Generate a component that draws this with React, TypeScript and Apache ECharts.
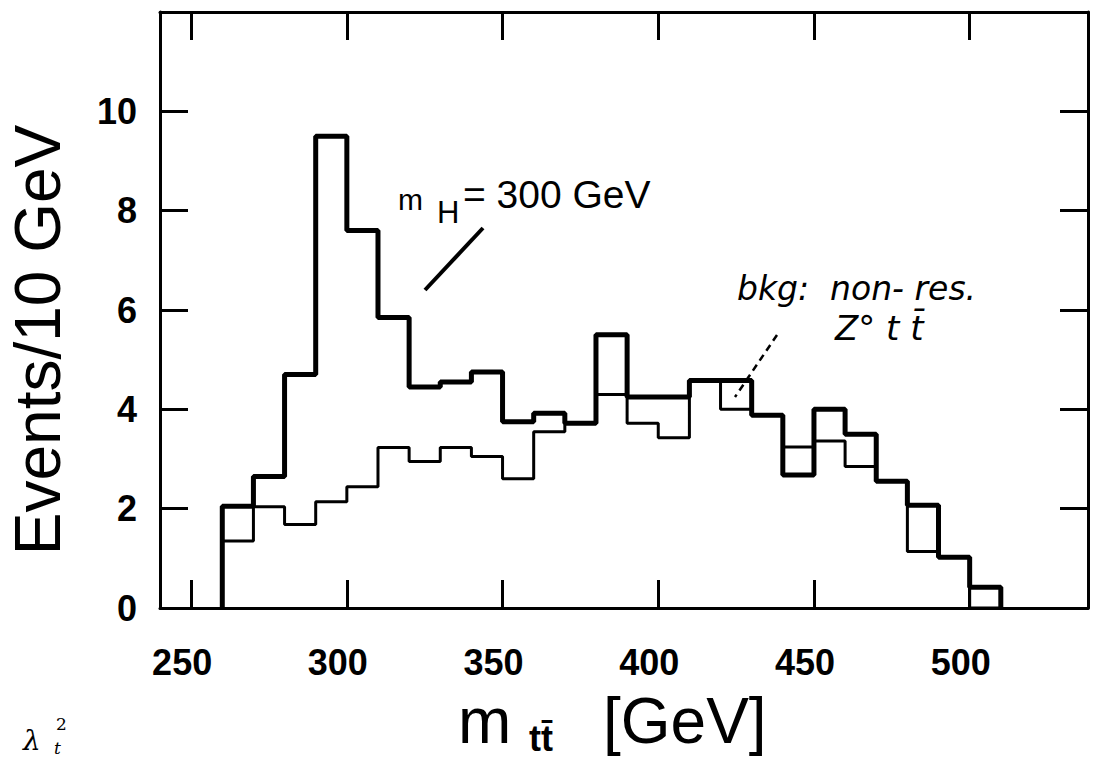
import React, { useEffect, useRef } from "react";
import * as echarts from "echarts";

// Bin edges of the m_tt distribution (GeV), 10 GeV per bin
const binEdges = [260, 270, 280, 290, 300, 310, 320, 330, 340, 350, 360, 370, 380, 390, 400, 410, 420, 430, 440, 450, 460, 470, 480, 490, 500, 510];
// Signal + background, m_H = 300 GeV (events per bin)
const signalCounts = [2.05, 2.65, 4.7, 9.5, 7.6, 5.85, 4.45, 4.55, 4.75, 3.75, 3.92, 3.72, 5.5, 4.25, 4.25, 4.58, 4.58, 3.88, 2.68, 4.0, 3.5, 2.55, 2.07, 1.02, 0.42];
// Non-resonant Z0 tt background (events per bin)
const backgroundCounts = [1.35, 2.04, 1.68, 2.14, 2.44, 3.23, 2.95, 3.23, 3.05, 2.6, 3.55, 3.72, 4.3, 3.72, 3.43, 4.58, 4.0, 3.88, 3.24, 3.36, 2.85, 2.55, 1.14, 1.02, 0];
const xTickValues = [250, 300, 350, 400, 450, 500];
const yTickValues = [0, 2, 4, 6, 8, 10];

const SANS = "'Liberation Sans', Arial, Helvetica, sans-serif";
const HAND = "'DejaVu Sans', sans-serif";
const SERIF = "'DejaVu Serif', serif";

function histogramPoints(counts: number[]): number[][] {
  const pts: number[][] = [[binEdges[0], 0]];
  counts.forEach((c, i) => pts.push([binEdges[i], c]));
  pts.push([binEdges[binEdges.length - 1], 0]);
  return pts;
}

const frameLine = { show: true, onZero: false, lineStyle: { color: "#000", width: 3 } };

function xAxisDef(position: "top" | "bottom", labels: boolean) {
  return {
    type: "value",
    min: 240,
    max: 538,
    position,
    axisLine: frameLine,
    axisTick: { show: true, inside: true, length: 28, customValues: xTickValues, lineStyle: { color: "#000", width: 3 } },
    axisLabel: labels
      ? {
          show: true,
          customValues: xTickValues,
          margin: 36,
          color: "#000",
          fontSize: 36,
          fontWeight: "bold",
          fontFamily: SANS,
          padding: [0, 18, 0, 0],
        }
      : { show: false },
    splitLine: { show: false },
  };
}

function yAxisDef(position: "left" | "right", labels: boolean) {
  return {
    type: "value",
    min: 0,
    max: 12,
    interval: 2,
    position,
    axisLine: frameLine,
    axisTick: { show: true, inside: true, length: 28, lineStyle: { color: "#000", width: 3 } },
    axisLabel: labels
      ? {
          show: true,
          customValues: yTickValues,
          margin: 23,
          color: "#000",
          fontSize: 36,
          fontWeight: "bold",
          fontFamily: SANS,
        }
      : { show: false },
    splitLine: { show: false },
  };
}

function txt(text: string, x: number, y: number, font: Record<string, unknown>, extra: Record<string, unknown> = {}) {
  return {
    type: "text",
    x,
    y,
    ...extra,
    style: {
      text,
      fill: "#000",
      textAlign: "left",
      align: "left",
      textVerticalAlign: "middle",
      verticalAlign: "middle",
      ...font,
    },
  };
}

export default function App() {
  const ref = useRef<HTMLDivElement>(null);

  useEffect(() => {
    if (!ref.current) return;
    const chart = echarts.init(ref.current, undefined, { renderer: "svg" });
    chart.setOption({
      animation: false,
      backgroundColor: "#fff",
      grid: { left: 160, right: 6, top: 12, bottom: 153, containLabel: false },
      xAxis: [xAxisDef("bottom", true), xAxisDef("top", false)],
      yAxis: [yAxisDef("left", true), yAxisDef("right", false)],
      series: [
        {
          name: "bkg: non-res. Z° tt̄",
          type: "line",
          step: "end",
          xAxisIndex: 0,
          yAxisIndex: 0,
          showSymbol: false,
          symbol: "none",
          data: histogramPoints(backgroundCounts),
          lineStyle: { color: "#000", width: 3 },
          z: 3,
        },
        {
          name: "m_H = 300 GeV",
          type: "line",
          step: "end",
          xAxisIndex: 0,
          yAxisIndex: 0,
          showSymbol: false,
          symbol: "none",
          data: histogramPoints(signalCounts),
          lineStyle: { color: "#000", width: 5 },
          z: 4,
        },
      ],
      graphic: [
        // axis titles
        txt("Events/10 GeV", 38, 340, { fontSize: 64, fontFamily: SANS, textAlign: "center", align: "center" }, { rotation: Math.PI / 2 }),
        txt("m", 458, 721, { fontSize: 64, fontFamily: SANS }),
        txt("tt\u0304", 529, 738, { fontSize: 36, fontWeight: "bold", fontFamily: SANS }),
        txt("[GeV]", 603, 721, { fontSize: 64, fontFamily: SANS }),
        // signal annotation
        txt("m", 398, 199, { fontSize: 30, fontFamily: SANS }),
        txt("H", 437, 212, { fontSize: 31, fontFamily: SANS }),
        txt("= 300 GeV", 463, 194, { fontSize: 39, fontFamily: SANS }),
        { type: "line", shape: { x1: 483, y1: 228, x2: 425, y2: 290 }, style: { stroke: "#000", lineWidth: 4 } },
        // background annotation
        txt("bkg:  non- res.", 737, 288, { fontSize: 33, fontStyle: "italic", fontFamily: HAND }),
        txt("Z° t t\u0304", 835, 328, { fontSize: 34, fontStyle: "italic", fontFamily: HAND }),
        { type: "line", shape: { x1: 777, y1: 335, x2: 735, y2: 397 }, style: { stroke: "#000", lineWidth: 2.5, lineDash: [7, 5] } },
        // fragment at the lower left edge
        txt("λ", 23, 740, { fontSize: 28, fontStyle: "italic", fontFamily: SERIF }),
        txt("2", 56, 724, { fontSize: 17, fontFamily: SERIF }),
        txt("t", 54, 748, { fontSize: 17, fontStyle: "italic", fontFamily: SERIF }),
      ],
    });
    return () => chart.dispose();
  }, []);

  return (
    <div
      ref={ref}
      style={{ position: "fixed", left: 0, top: 0, width: 1094, height: 761, background: "#fff" }}
    />
  );
}
